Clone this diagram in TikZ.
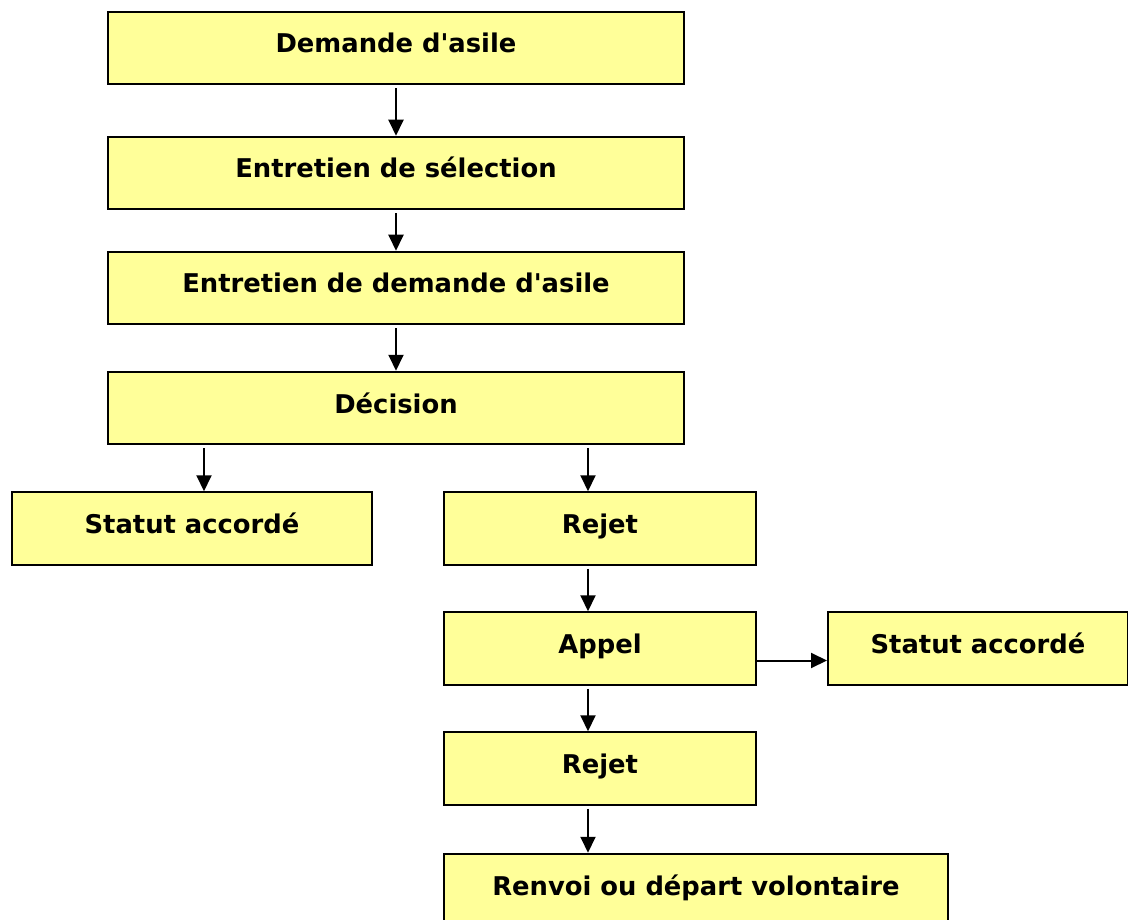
\documentclass[tikz,border=0pt]{standalone}
\usepackage{fontspec}
\setmainfont{DejaVu Sans}
\usetikzlibrary{arrows.meta}
\definecolor{boxyellow}{HTML}{FFFF99}

\begin{document}
\begin{tikzpicture}[x=1pt, y=-1pt, box_style/.style={draw=black, line width=2pt, fill=boxyellow, minimum width=#1, minimum height=72.5pt, inner sep=0pt, font=\fontsize{25.8}{30}\selectfont\bfseries, text height=19pt, text depth=9pt}, edge_style/.style={draw=black, line width=2pt, -{Triangle[length=16pt,width=15pt]}, shorten <=3pt}]
      \clip (0,0) rectangle (1128,920);
      \draw
        (396, 48) node[box_style=576] (demande){Demande d\textquotesingle asile}
        (396, 173) node[box_style=576] (selection){Entretien de sélection}
        (396, 288) node[box_style=576] (entretien){Entretien de demande d\textquotesingle asile}
        (396, 408) node[box_style=576] (decision){Décision}
        (192, 528.5) node[box_style=360] (statut_a){Statut accordé}
        (600, 528.5) node[box_style=312] (rejet_a){Rejet}
        (600, 648.5) node[box_style=312] (appel){Appel}
        (978, 648.5) node[box_style=300] (statut_b){Statut accordé}
        (600, 768.5) node[box_style=312] (rejet_b){Rejet}
        (696, 890) node[box_style=504] (renvoi){Renvoi ou départ volontaire};
      \begin{scope}[-]
        \draw[edge_style] (demande) to (selection);
        \draw[edge_style] (selection) to (entretien);
        \draw[edge_style] (entretien) to (decision);
        \draw[edge_style] ([xshift=-192pt]decision.south) to ([xshift=12pt]statut_a.north);
        \draw[edge_style] ([xshift=192pt]decision.south) to ([xshift=-12pt]rejet_a.north);
        \draw[edge_style] ([xshift=-12pt]rejet_a.south) to ([xshift=-12pt]appel.north);
        \draw[edge_style, shorten <=0pt] ([yshift=-12pt]appel.east) to ([yshift=-12pt]statut_b.west);
        \draw[edge_style] ([xshift=-12pt]appel.south) to ([xshift=-12pt]rejet_b.north);
        \draw[edge_style] ([xshift=-12pt]rejet_b.south) to ([xshift=-108pt]renvoi.north);
      \end{scope}
    \end{tikzpicture}
\end{document}
